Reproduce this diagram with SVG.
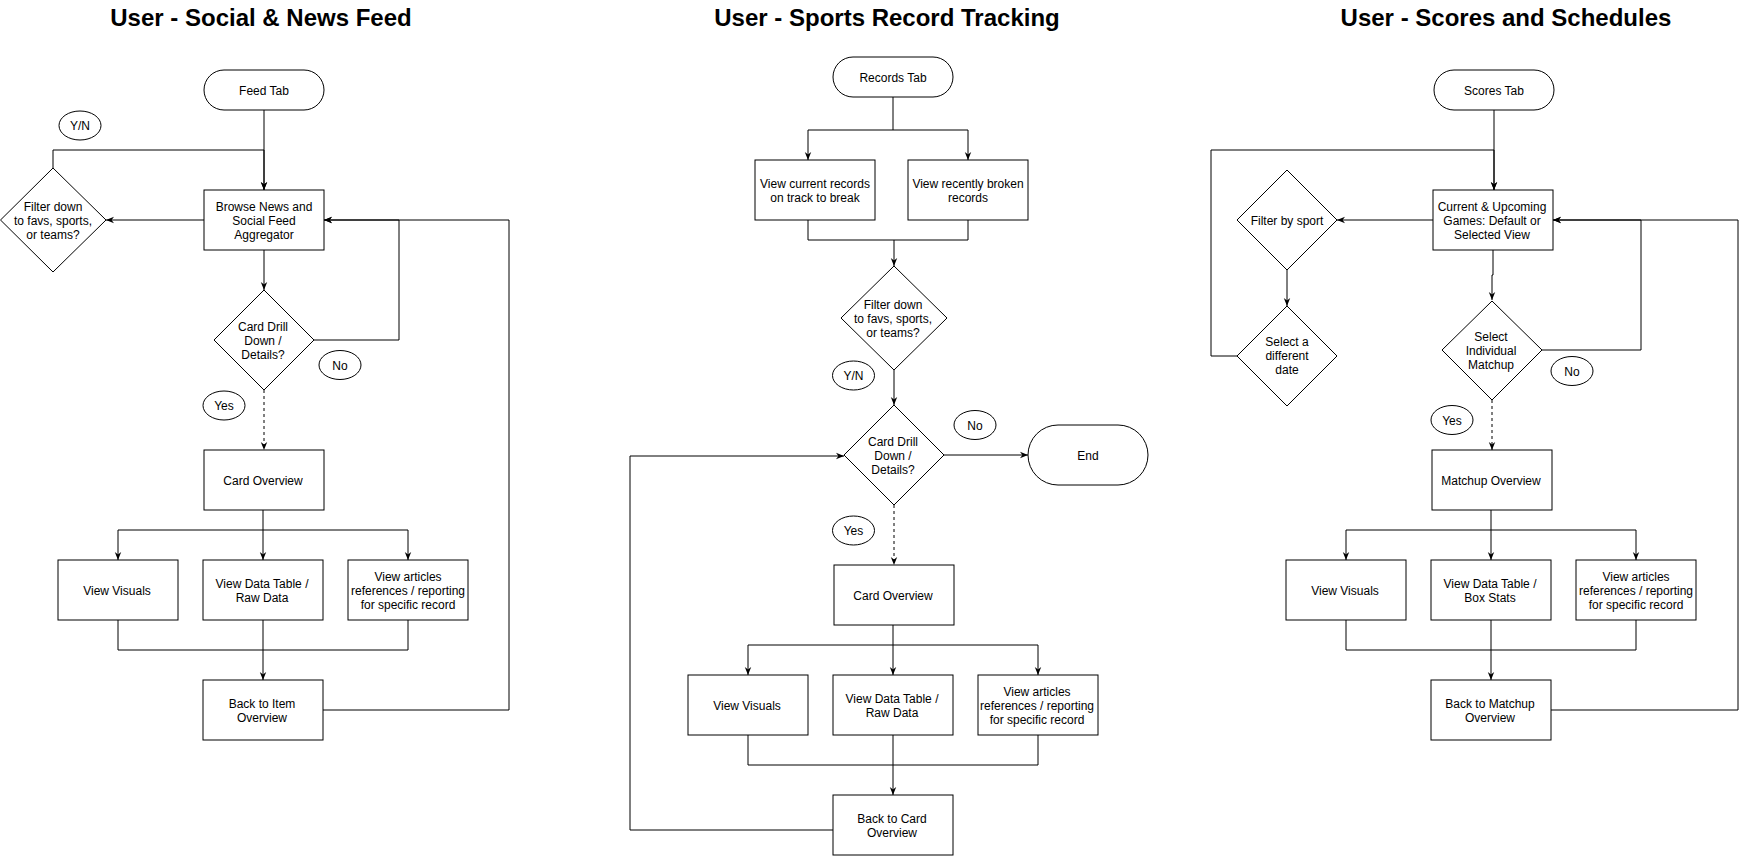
<svg xmlns="http://www.w3.org/2000/svg" width="1746" height="856" viewBox="0 0 1746 856">
<style>
.b{fill:#fff;stroke:#000;stroke-width:1}
.c{fill:none;stroke:#000;stroke-width:1}
.d{fill:none;stroke:#000;stroke-width:1;stroke-dasharray:3 3}
text{font-family:"Liberation Sans",Helvetica,Arial,sans-serif;font-size:12px;fill:#000;text-anchor:middle}
.ti{font-size:24px;font-weight:bold}
</style>
<defs>
<marker id="a" viewBox="0 0 10 10" refX="10" refY="5" markerWidth="8" markerHeight="8" markerUnits="userSpaceOnUse" orient="auto">
<path d="M0,1 L10,5 L0,9 L3,5 z" fill="#000"/>
</marker>
</defs>
<rect width="1746" height="856" fill="#fff"/>
<text class="ti" x="261" y="26">User - Social &amp; News Feed</text>
<text class="ti" x="887" y="26">User - Sports Record Tracking</text>
<text class="ti" x="1506" y="26">User - Scores and Schedules</text>

<g id="connectors">
<!-- panel 1 -->
<path class="c" d="M264,110 V190" marker-end="url(#a)"/>
<path class="c" d="M53,168 V150 H264 V190" marker-end="url(#a)"/>
<path class="c" d="M204,220 H106" marker-end="url(#a)"/>
<path class="c" d="M264,250 V290" marker-end="url(#a)"/>
<path class="c" d="M314,340 H399 V220 H324" marker-end="url(#a)"/>
<path class="d" d="M264,390 V450" marker-end="url(#a)"/>
<path class="c" d="M263,510 V530 H118 V560" marker-end="url(#a)"/>
<path class="c" d="M263,530 V560" marker-end="url(#a)"/>
<path class="c" d="M263,530 H408 V560" marker-end="url(#a)"/>
<path class="c" d="M118,620 V650 H408 V620"/>
<path class="c" d="M263,620 V680" marker-end="url(#a)"/>
<path class="c" d="M323,710 H509 V220 H324" marker-end="url(#a)"/>
<!-- panel 2 -->
<path class="c" d="M893,97 V130 H808 V160" marker-end="url(#a)"/>
<path class="c" d="M893,130 H968 V160" marker-end="url(#a)"/>
<path class="c" d="M808,220 V240 H968 V220"/>
<path class="c" d="M894,240 V266" marker-end="url(#a)"/>
<path class="c" d="M894,370 V405" marker-end="url(#a)"/>
<path class="c" d="M944,455 H1028" marker-end="url(#a)"/>
<path class="d" d="M894,505 V565" marker-end="url(#a)"/>
<path class="c" d="M893,625 V645 H748 V675" marker-end="url(#a)"/>
<path class="c" d="M893,645 V675" marker-end="url(#a)"/>
<path class="c" d="M893,645 H1038 V675" marker-end="url(#a)"/>
<path class="c" d="M748,735 V765 H1038 V735"/>
<path class="c" d="M893,735 V795" marker-end="url(#a)"/>
<path class="c" d="M833,830 H630 V456 H844" marker-end="url(#a)"/>
<!-- panel 3 -->
<path class="c" d="M1494,110 V190" marker-end="url(#a)"/>
<path class="c" d="M1237,356 H1211 V150 H1494 V190" marker-end="url(#a)"/>
<path class="c" d="M1433,220 H1337" marker-end="url(#a)"/>
<path class="c" d="M1287,270 V306" marker-end="url(#a)"/>
<path class="c" d="M1493,250 V275 H1492 V300" marker-end="url(#a)"/>
<path class="c" d="M1542,350 H1641 V220 H1553" marker-end="url(#a)"/>
<path class="d" d="M1492,400 V450" marker-end="url(#a)"/>
<path class="c" d="M1491,510 V530 H1346 V560" marker-end="url(#a)"/>
<path class="c" d="M1491,530 V560" marker-end="url(#a)"/>
<path class="c" d="M1491,530 H1636 V560" marker-end="url(#a)"/>
<path class="c" d="M1346,620 V650 H1636 V620"/>
<path class="c" d="M1491,620 V680" marker-end="url(#a)"/>
<path class="c" d="M1551,710 H1738 V220 H1553" marker-end="url(#a)"/>
</g>

<!-- panel 1 nodes -->
<g id="feed-tab"><rect class="b" x="204" y="70" width="120" height="40" rx="20"/><text x="264" y="94.5">Feed Tab</text></g>
<g id="yn1"><ellipse class="b" cx="80" cy="125.5" rx="21" ry="14.5"/><text x="80" y="130">Y/N</text></g>
<g id="browse"><rect class="b" x="204" y="190" width="120" height="60"/><text x="264" y="211">Browse News and</text><text x="264" y="225">Social Feed</text><text x="264" y="239">Aggregator</text></g>
<g id="filter1"><polygon class="b" points="53,168 106,220 53,272 0.5,220"/><text x="53" y="211">Filter down</text><text x="53" y="225">to favs, sports,</text><text x="53" y="239">or teams?</text></g>
<g id="drill1"><polygon class="b" points="264,290 314,340 264,390 214,340"/><text x="263" y="331">Card Drill</text><text x="263" y="345">Down /</text><text x="263" y="359">Details?</text></g>
<g id="no1"><ellipse class="b" cx="340" cy="365" rx="21" ry="14.5"/><text x="340" y="369.5">No</text></g>
<g id="yes1"><ellipse class="b" cx="224" cy="405.5" rx="21" ry="14.5"/><text x="224" y="410">Yes</text></g>
<g id="card1"><rect class="b" x="204" y="450" width="120" height="60"/><text x="263" y="484.5">Card Overview</text></g>
<g id="visuals1"><rect class="b" x="58" y="560" width="120" height="60"/><text x="117" y="594.5">View Visuals</text></g>
<g id="data1"><rect class="b" x="203" y="560" width="120" height="60"/><text x="262" y="588">View Data Table /</text><text x="262" y="602">Raw Data</text></g>
<g id="articles1"><rect class="b" x="348" y="560" width="120" height="60"/><text x="408" y="581">View articles</text><text x="408" y="595">references / reporting</text><text x="408" y="609">for specific record</text></g>
<g id="back1"><rect class="b" x="203" y="680" width="120" height="60"/><text x="262" y="708">Back to Item</text><text x="262" y="722">Overview</text></g>

<!-- panel 2 nodes -->
<g id="records-tab"><rect class="b" x="833" y="57" width="120" height="40" rx="20"/><text x="893" y="81.5">Records Tab</text></g>
<g id="current-rec"><rect class="b" x="755" y="160" width="120" height="60"/><text x="815" y="188">View current records</text><text x="815" y="202">on track to break</text></g>
<g id="broken-rec"><rect class="b" x="908" y="160" width="120" height="60"/><text x="968" y="188">View recently broken</text><text x="968" y="202">records</text></g>
<g id="filter2"><polygon class="b" points="894,266 947,318 894,370 841,318"/><text x="893" y="309">Filter down</text><text x="893" y="323">to favs, sports,</text><text x="893" y="337">or teams?</text></g>
<g id="yn2"><ellipse class="b" cx="853.5" cy="375.5" rx="21" ry="14.5"/><text x="853.5" y="380">Y/N</text></g>
<g id="drill2"><polygon class="b" points="894,405 944,455 894,505 844,455"/><text x="893" y="446">Card Drill</text><text x="893" y="460">Down /</text><text x="893" y="474">Details?</text></g>
<g id="no2"><ellipse class="b" cx="975" cy="425" rx="21" ry="14.5"/><text x="975" y="429.5">No</text></g>
<g id="end"><rect class="b" x="1028" y="425" width="120" height="60" rx="30"/><text x="1088" y="459.5">End</text></g>
<g id="yes2"><ellipse class="b" cx="853.5" cy="530.5" rx="21" ry="14.5"/><text x="853.5" y="535">Yes</text></g>
<g id="card2"><rect class="b" x="834" y="565" width="120" height="60"/><text x="893" y="599.5">Card Overview</text></g>
<g id="visuals2"><rect class="b" x="688" y="675" width="120" height="60"/><text x="747" y="709.5">View Visuals</text></g>
<g id="data2"><rect class="b" x="833" y="675" width="120" height="60"/><text x="892" y="703">View Data Table /</text><text x="892" y="717">Raw Data</text></g>
<g id="articles2"><rect class="b" x="978" y="675" width="120" height="60"/><text x="1037" y="696">View articles</text><text x="1037" y="710">references / reporting</text><text x="1037" y="724">for specific record</text></g>
<g id="back2"><rect class="b" x="833" y="795" width="120" height="60"/><text x="892" y="823">Back to Card</text><text x="892" y="837">Overview</text></g>

<!-- panel 3 nodes -->
<g id="scores-tab"><rect class="b" x="1434" y="70" width="120" height="40" rx="20"/><text x="1494" y="94.5">Scores Tab</text></g>
<g id="current-games"><rect class="b" x="1433" y="190" width="120" height="60"/><text x="1492" y="211">Current &amp; Upcoming</text><text x="1492" y="225">Games: Default or</text><text x="1492" y="239">Selected View</text></g>
<g id="filter-sport"><polygon class="b" points="1287,170 1337,220 1287,270 1237,220"/><text x="1287" y="225">Filter by sport</text></g>
<g id="select-date"><polygon class="b" points="1287,306 1337,356 1287,406 1237,356"/><text x="1287" y="346">Select a</text><text x="1287" y="360">different</text><text x="1287" y="374">date</text></g>
<g id="select-matchup"><polygon class="b" points="1492,301 1542,350 1492,400 1442,350"/><text x="1491" y="341">Select</text><text x="1491" y="355">Individual</text><text x="1491" y="369">Matchup</text></g>
<g id="no3"><ellipse class="b" cx="1572" cy="371" rx="21" ry="14.5"/><text x="1572" y="375.5">No</text></g>
<g id="yes3"><ellipse class="b" cx="1452" cy="420" rx="21" ry="14.5"/><text x="1452" y="424.5">Yes</text></g>
<g id="matchup"><rect class="b" x="1432" y="450" width="120" height="60"/><text x="1491" y="484.5">Matchup Overview</text></g>
<g id="visuals3"><rect class="b" x="1286" y="560" width="120" height="60"/><text x="1345" y="594.5">View Visuals</text></g>
<g id="data3"><rect class="b" x="1431" y="560" width="120" height="60"/><text x="1490" y="588">View Data Table /</text><text x="1490" y="602">Box Stats</text></g>
<g id="articles3"><rect class="b" x="1576" y="560" width="120" height="60"/><text x="1636" y="581">View articles</text><text x="1636" y="595">references / reporting</text><text x="1636" y="609">for specific record</text></g>
<g id="back3"><rect class="b" x="1431" y="680" width="120" height="60"/><text x="1490" y="708">Back to Matchup</text><text x="1490" y="722">Overview</text></g>
</svg>
